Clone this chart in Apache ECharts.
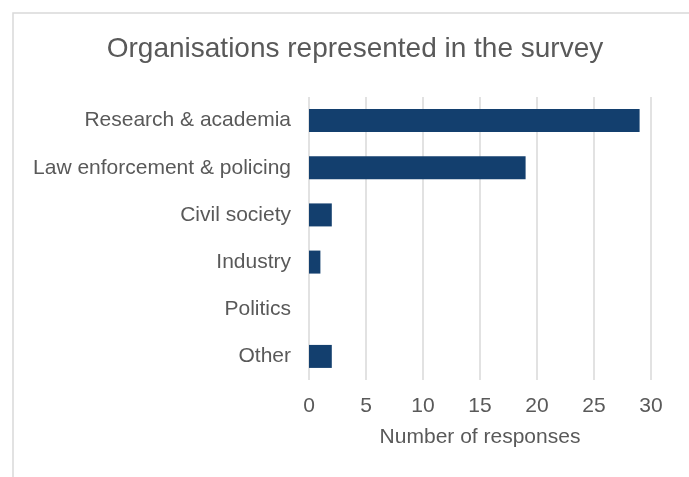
<!DOCTYPE html>
<html>
<head>
<meta charset="utf-8">
<script src="https://cdn.jsdelivr.net/npm/echarts@6/dist/echarts.min.js"></script>
<style>html,body{margin:0;padding:0;background:#fff}#c{width:689px;height:477px}</style>
</head>
<body>
<div id="c"></div>
<script>
const categories = ["Research & academia", "Law enforcement & policing", "Civil society", "Industry", "Politics", "Other"];
const responses = [29, 19, 2, 1, 0, 2];
const xTicks = [0, 5, 10, 15, 20, 25, 30];

const chart = echarts.init(document.getElementById('c'), null, {renderer: 'canvas'});
const font = 'Liberation Sans, Arial, sans-serif';
chart.setOption({
  animation: false,
  backgroundColor: '#fff',
  graphic: [{
    type: 'rect', left: 10.5, top: 10.5,
    shape: {x: 0, y: 0, width: 720, height: 520},
    style: {fill: 'none', stroke: '#d9d9d9', lineWidth: 1.5}
  }],
  title: {
    text: 'Organisations represented in the survey',
    left: 350, top: 30, textAlign: 'center',
    textStyle: {fontFamily: font, fontSize: 28, fontWeight: 'normal', color: '#595959'}
  },
  grid: {left: 309, right: 38, top: 97, bottom: 97, containLabel: false},
  xAxis: {
    type: 'value', min: xTicks[0], max: xTicks[xTicks.length - 1], interval: 5,
    name: 'Number of responses', nameLocation: 'middle', nameGap: 47,
    nameTextStyle: {fontFamily: font, fontSize: 21, color: '#595959'},
    axisLine: {show: false}, axisTick: {show: false},
    axisLabel: {fontFamily: font, fontSize: 21, color: '#595959', margin: 16},
    splitLine: {show: true, lineStyle: {color: '#d9d9d9', width: 1.5}}
  },
  yAxis: {
    type: 'category', data: categories, inverse: true,
    axisLine: {show: false}, axisTick: {show: false},
    axisLabel: {fontFamily: font, fontSize: 21, color: '#595959', margin: 18}
  },
  series: [{
    type: 'bar', data: responses, barWidth: 23,
    itemStyle: {color: '#133F6E'}
  }]
});
</script>
</body>
</html>
